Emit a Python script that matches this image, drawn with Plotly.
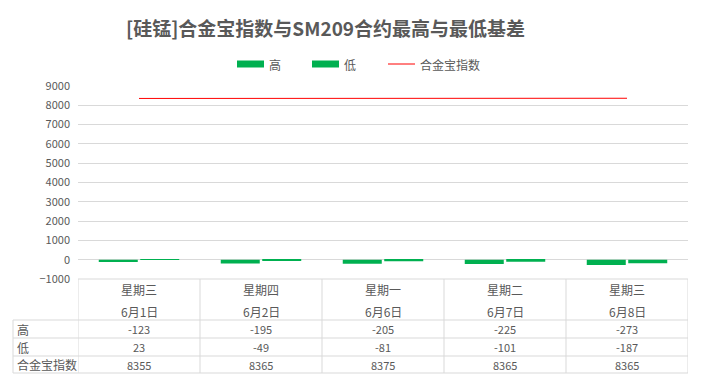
import plotly.graph_objects as go

weekdays = ["星期三", "星期四", "星期一", "星期二", "星期三"]
dates = ["6月1日", "6月2日", "6月6日", "6月7日", "6月8日"]
high = [-123, -195, -205, -225, -273]
low = [23, -49, -81, -101, -187]
index_vals = [8355, 8365, 8375, 8365, 8365]
series_names = ["高", "低", "合金宝指数"]

FONT = "Noto Sans CJK SC"
TXT = "#595959"
GRID = "#d9d9d9"
GREEN = "#00B050"
RED = "#FF0000"

W, H = 703, 388
L, R, T, B = 78, 15, 86, 109
PW, PH = W - L - R, H - T - B

def px_x(px):
    return (px - L) / PW

def px_y(py):
    return (H - B - py) / PH

xs = list(range(len(dates)))

fig = go.Figure()
fig.add_trace(go.Bar(x=xs, y=high, name=series_names[0], marker=dict(color=GREEN, line=dict(width=0))))
fig.add_trace(go.Bar(x=xs, y=low, name=series_names[1], marker=dict(color=GREEN, line=dict(width=0))))
fig.add_trace(go.Scatter(x=xs, y=index_vals, name=series_names[2], mode="lines",
                         line=dict(color=RED, width=1)))

shapes = []
annotations = []

# table geometry (pixel rows)
row_y = [279, 320, 338, 356, 373]
left_px = 13
for i, py in enumerate(row_y):
    x0 = px_x(L) if i == 0 else px_x(left_px)
    shapes.append(dict(type="line", xref="paper", yref="paper", x0=x0, x1=1,
                       y0=px_y(py), y1=px_y(py), line=dict(color=GRID, width=1)))
for k in range(len(dates) + 1):
    shapes.append(dict(type="line", xref="x", yref="paper", x0=k - 0.5, x1=k - 0.5,
                       y0=px_y(279), y1=px_y(373), line=dict(color=GRID, width=1)))
shapes.append(dict(type="line", xref="paper", yref="paper", x0=px_x(left_px), x1=px_x(left_px),
                   y0=px_y(320), y1=px_y(373), line=dict(color=GRID, width=1)))

for i in xs:
    annotations.append(dict(x=i, y=px_y(289), xref="x", yref="paper", text=weekdays[i],
                            showarrow=False, font=dict(family=FONT, size=12, color=TXT),
                            xanchor="center", yanchor="middle"))
    annotations.append(dict(x=i, y=px_y(311), xref="x", yref="paper", text=dates[i],
                            showarrow=False, font=dict(family=FONT, size=12, color=TXT),
                            xanchor="center", yanchor="middle"))

rows = [high, low, index_vals]
for r, vals in enumerate(rows):
    cy = (row_y[r + 1] + row_y[r + 2]) / 2
    annotations.append(dict(x=px_x(15), y=px_y(cy), xref="paper", yref="paper", text=series_names[r],
                            showarrow=False, font=dict(family=FONT, size=12, color=TXT),
                            xanchor="left", yanchor="middle"))
    for i in xs:
        annotations.append(dict(x=i, y=px_y(cy), xref="x", yref="paper", text=str(vals[i]),
                                showarrow=False, font=dict(family=FONT, size=11, color=TXT),
                                xanchor="center", yanchor="middle"))

# custom legend
ly = 64
for x0, x1, tx, name in [(237, 264, 267, series_names[0]), (312, 339, 342, series_names[1])]:
    shapes.append(dict(type="rect", xref="paper", yref="paper", x0=px_x(x0), x1=px_x(x1),
                       y0=px_y(ly - 3.5), y1=px_y(ly + 3.5), fillcolor=GREEN, line=dict(width=0)))
    annotations.append(dict(x=px_x(tx), y=px_y(ly), xref="paper", yref="paper", text=name,
                            showarrow=False, font=dict(family=FONT, size=12, color=TXT),
                            xanchor="left", yanchor="middle"))
shapes.append(dict(type="line", xref="paper", yref="paper", x0=px_x(388), x1=px_x(415),
                   y0=px_y(ly), y1=px_y(ly), line=dict(color=RED, width=1)))
annotations.append(dict(x=px_x(418), y=px_y(ly), xref="paper", yref="paper", text=series_names[2],
                        showarrow=False, font=dict(family=FONT, size=12, color=TXT),
                        xanchor="left", yanchor="middle"))

# title
annotations.append(dict(x=px_x(325), y=px_y(27), xref="paper", yref="paper",
                        text="<b>[硅锰]合金宝指数与SM209合约最高与最低基差</b>",
                        showarrow=False, font=dict(family=FONT, size=19, color=TXT),
                        xanchor="center", yanchor="middle"))

fig.update_layout(
    width=W, height=H,
    margin=dict(l=L, r=R, t=T, b=B, pad=0),
    paper_bgcolor="white", plot_bgcolor="white",
    showlegend=False,
    barmode="group", bargap=0.32, bargroupgap=0.06,
    shapes=shapes, annotations=annotations,
    font=dict(family=FONT, color=TXT),
)
fig.update_xaxes(range=[-0.5, len(dates) - 0.5], showticklabels=False, showgrid=False,
                 zeroline=False, showline=False, ticks="", fixedrange=True)
fig.update_yaxes(range=[-1000, 9000], dtick=1000, tick0=0, showgrid=True, gridcolor=GRID,
                 gridwidth=1, zeroline=True, zerolinecolor=GRID, zerolinewidth=1,
                 showline=False, ticks="", ticklabelstandoff=7,
                 tickfont=dict(family=FONT, size=11, color=TXT), fixedrange=True)

fig.write_html("out.html")
